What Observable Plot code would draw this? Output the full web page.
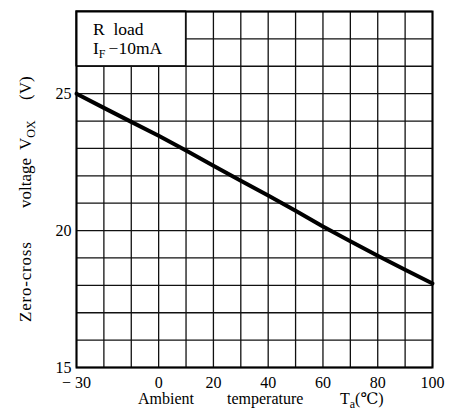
<!DOCTYPE html>
<html>
<head>
<meta charset="utf-8">
<script src="https://cdn.jsdelivr.net/npm/d3@7"></script>
<script src="https://cdn.jsdelivr.net/npm/@observablehq/plot@0.6"></script>
<style>
  html, body { margin: 0; padding: 0; background: white; }
  svg text { font-family: "Liberation Serif", "DejaVu Serif", serif; }
</style>
</head>
<body>
<div id="chart"></div>
<script>
// Data
const temperature = [-30, -20, -10, 0, 10, 20, 30, 40, 50, 60, 70, 80, 90, 100];        // Ta (°C)
const voltage     = [25, 24.48, 23.97, 23.46, 22.92, 22.37, 21.82, 21.28, 20.72, 20.15, 19.61, 19.08, 18.57, 18.07]; // Vox (V)
const xTicks = [-30, 0, 20, 40, 60, 80, 100];
const yTicks = [15, 20, 25];
const xGrid = [-30, -20, -10, 0, 10, 20, 30, 40, 50, 60, 70, 80, 90, 100];
const yGrid = [15, 16, 17, 18, 19, 20, 21, 22, 23, 24, 25, 26, 27, 28];
const legendBox = [{x1: -30, x2: 10, y1: 26, y2: 28}];

const data = temperature.map((t, i) => ({t, v: voltage[i]}));

const chart = Plot.plot({
  width: 453,
  height: 415,
  marginLeft: 76,
  marginRight: 21,
  marginTop: 11,
  marginBottom: 48,
  x: {domain: [-30, 100]},
  y: {domain: [15, 28]},
  style: {fontFamily: "'Liberation Serif', serif", fontSize: "16px", background: "white", color: "black", overflow: "visible"},
  marks: [
    Plot.ruleX(xGrid, {stroke: "#111", strokeWidth: 1.3}),
    Plot.ruleY(yGrid, {stroke: "#111", strokeWidth: 1.3}),
    Plot.rect(legendBox, {x1: "x1", x2: "x2", y1: "y1", y2: "y2", fill: "white", stroke: "#111", strokeWidth: 1.3}),
    Plot.frame({stroke: "black", strokeWidth: 2}),
    Plot.line(data, {x: "t", y: "v", stroke: "black", strokeWidth: 4}),
    Plot.axisX(xTicks, {tickSize: 0, tickPadding: 9, label: null, fontSize: 16,
      tickFormat: d => d < 0 ? "− " + (-d) : String(d)}),
    Plot.axisY(yTicks, {tickSize: 0, tickPadding: 5, label: null, fontSize: 16})
  ]
});
document.getElementById("chart").appendChild(chart);

const svg = d3.select(chart);
const sx = chart.scale("x"), sy = chart.scale("y");
const leftPx = sx.apply(-30), topPx = sy.apply(28), bottomPx = sy.apply(15);

// Legend text inside the white box
const lg = svg.append("g").attr("font-size", 17.5).attr("fill", "black").attr("text-anchor", "start");
lg.append("text").attr("x", leftPx + 17).attr("y", topPx + 24).attr("xml:space", "preserve").text("R  load");
const l2 = lg.append("text").attr("x", leftPx + 17).attr("y", topPx + 43);
l2.append("tspan").text("I");
l2.append("tspan").attr("font-size", 12).attr("dy", 4).text("F");
l2.append("tspan").attr("dy", -4).attr("dx", 3).text("−10mA");

// X axis title
const xt = svg.append("g").attr("font-size", 16).attr("fill", "black").attr("text-anchor", "start");
const xBase = bottomPx + 37;
xt.append("text").attr("x", leftPx + 62).attr("y", xBase).text("Ambient");
xt.append("text").attr("x", leftPx + 151).attr("y", xBase).text("temperature");
const ta = xt.append("text").attr("x", leftPx + 264).attr("y", xBase);
ta.append("tspan").text("T");
ta.append("tspan").attr("font-size", 12).attr("dy", 4).text("a");
ta.append("tspan").attr("dy", -4).text("(℃)");

// Y axis title (rotated)
const yt = svg.append("g").attr("font-size", 17).attr("fill", "black").attr("text-anchor", "start")
  .attr("transform", `translate(31,0) rotate(-90)`);
yt.append("text").attr("x", -322).attr("y", 0).attr("letter-spacing", 0.8).text("Zero-cross");
yt.append("text").attr("x", -208).attr("y", 0).text("voltage");
const vo = yt.append("text").attr("x", -150).attr("y", 0);
vo.append("tspan").text("V");
vo.append("tspan").attr("font-size", 12).attr("dy", 4).text("OX");
yt.append("text").attr("x", -100).attr("y", 0).text("(V)");
</script>
</body>
</html>
